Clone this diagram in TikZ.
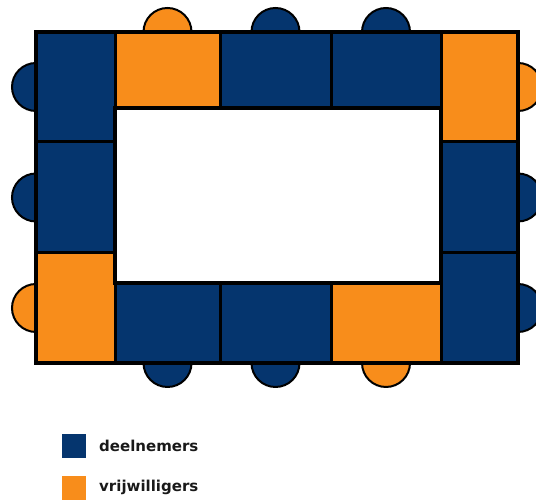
\documentclass[tikz,border=0pt]{standalone}
\usepackage{fontspec}
\setsansfont{DejaVu Sans}
\usepackage{tikz}
\definecolor{tblue}{HTML}{05356E}
\definecolor{torange}{HTML}{F88D1B}
\tikzset{
  % table pieces and the chairs round them
  cell/.style    = {draw=black, fill=#1, line width=3pt},
  cell/.default  = tblue,
  chair/.style   = {draw=black, fill=#1, line width=2pt},
  chair/.default = tblue,
  key/.style     = {rectangle, fill=#1, minimum size=24pt, inner sep=0pt},
  lbl/.style     = {font=\sffamily\bfseries\fontsize{15}{17}\selectfont, text=black!90,
                    anchor=base west, inner sep=0pt},
}

\begin{document}
\begin{tikzpicture}[x=1pt,y=1pt]
\useasboundingbox (0,0) rectangle (536,502);
% chairs (behind the table)
\foreach \x/\y/\c in {167.5/470/torange,275.5/470/tblue,386/470/tblue,
                      167.5/139/tblue,275.5/139/tblue,386/139/torange,
                      36/415/tblue,36/304.5/tblue,36/194/torange,
                      518/415/torange,518/304.5/tblue,518/194/tblue}
  {\draw[chair=\c] (\x,\y) circle (24pt);}
% table cells
\foreach \xa/\ya/\xb/\yb/\c in {36/360/115/470/tblue,36/249/115/360/tblue,36/139/115/249/torange,
                                441/360/518/470/torange,441/249/518/360/tblue,441/139/518/249/tblue,
                                115/394/220/470/torange,220/394/331/470/tblue,331/394/441/470/tblue,
                                115/139/220/219/tblue,220/139/331/219/tblue,331/139/441/219/torange}
  {\draw[cell=\c] (\xa,\ya) rectangle (\xb,\yb);}
\draw[line width=4pt] (36,139) rectangle (518,470);
\draw[line width=3.5pt] (115,219) rectangle (441,394);
% legend
\node[key=tblue]   (keyd) at (74,55.5) {};
\node[key=torange] (keyv) at (74,14)   {};
\node[lbl] (lbld) at (99,50) {deelnemers};
\node[lbl] (lblv) at (99,10) {vrijwilligers};
\end{tikzpicture}
\end{document}
